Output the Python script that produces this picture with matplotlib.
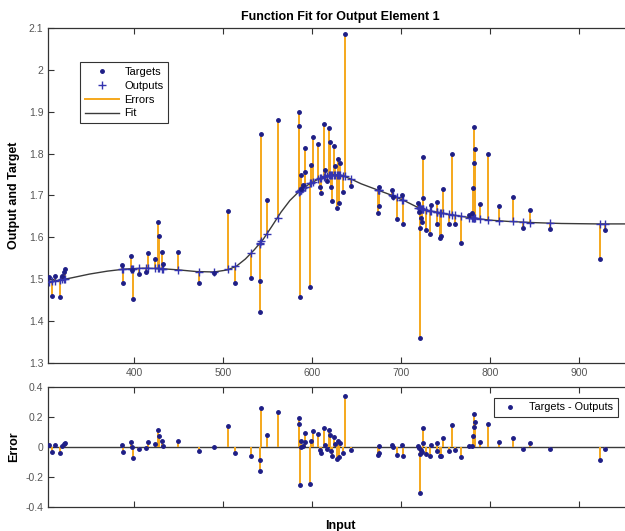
import numpy as np
import matplotlib
matplotlib.use("Agg")
import matplotlib.pyplot as plt
from matplotlib.lines import Line2D

plt.rcParams["font.family"] = ["Liberation Sans", "DejaVu Sans"]

# ── data ──────────────────────────────────────────────────────────────────
inputs = [304, 308, 311, 316.5, 319, 321, 322,
          386, 388, 397, 398, 399, 405, 413, 416, 424, 427, 428, 431, 432,
          449, 473, 490, 505, 513, 531, 541, 542, 543, 549.5, 562,
          585, 585.5, 586, 587, 588, 590, 591.7, 592, 598, 599, 601, 607,
          609, 610, 613, 615, 617, 619, 620, 621, 622, 624.6, 626, 627.5,
          629, 630, 631, 634.7, 637, 643.5,
          674.5, 675, 675.5, 690, 691, 695, 701, 702,
          719, 720, 721, 721.5, 722, 723, 724, 725, 727.6, 732, 734,
          739.7, 740.5, 743.5, 744.6, 747.2, 753.7, 757, 761, 766.8,
          776.7, 779.3, 781, 781.5, 782, 782.5, 788.8, 797, 809.5, 825.7,
          837, 844.6, 867.3, 923, 929]
targets = [1.505, 1.460, 1.507, 1.457, 1.508, 1.518, 1.525,
           1.534, 1.490, 1.556, 1.522, 1.452, 1.512, 1.516, 1.562, 1.548, 1.637, 1.603, 1.564, 1.535,
           1.565, 1.491, 1.515, 1.663, 1.490, 1.503, 1.495, 1.422, 1.848, 1.689, 1.880,
           1.900, 1.866, 1.456, 1.749, 1.715, 1.725, 1.813, 1.757, 1.482, 1.773, 1.841, 1.823,
           1.720, 1.705, 1.871, 1.760, 1.735, 1.861, 1.829, 1.721, 1.687, 1.819, 1.770, 1.669,
           1.787, 1.681, 1.777, 1.708, 2.086, 1.723,
           1.659, 1.720, 1.675, 1.713, 1.697, 1.643, 1.701, 1.631,
           1.681, 1.661, 1.623, 1.358, 1.645, 1.637, 1.693, 1.791, 1.617, 1.607, 1.677,
           1.685, 1.631, 1.598, 1.602, 1.716, 1.631, 1.799, 1.631, 1.587,
           1.653, 1.657, 1.719, 1.778, 1.865, 1.812, 1.679, 1.799, 1.675, 1.696,
           1.622, 1.665, 1.619, 1.548, 1.617]
outputs = [1.494, 1.495, 1.496, 1.497, 1.499, 1.500, 1.500,
           1.523, 1.523, 1.525, 1.525, 1.525, 1.526, 1.526, 1.526, 1.526, 1.526, 1.526, 1.525, 1.525,
           1.522, 1.518, 1.517, 1.524, 1.532, 1.563, 1.584, 1.586, 1.590, 1.609, 1.645,
           1.709, 1.710, 1.710, 1.712, 1.713, 1.717, 1.720, 1.721, 1.730, 1.731, 1.733, 1.739,
           1.741, 1.742, 1.745, 1.746, 1.747, 1.748, 1.748, 1.749, 1.749, 1.750, 1.750, 1.750,
           1.749, 1.749, 1.749, 1.747, 1.746, 1.740,
           1.713, 1.713, 1.713, 1.700, 1.699, 1.696, 1.690, 1.689,
           1.671, 1.670, 1.669, 1.669, 1.668, 1.668, 1.667, 1.667, 1.666, 1.664, 1.663,
           1.661, 1.660, 1.659, 1.659, 1.658, 1.655, 1.654, 1.653, 1.651,
           1.647, 1.647, 1.646, 1.646, 1.646, 1.646, 1.644, 1.642, 1.640, 1.638,
           1.636, 1.635, 1.634, 1.632, 1.632]

fit_x = [300, 315, 330, 350, 370, 390, 410, 430, 450, 470, 490, 505, 515, 525,
         535, 545, 555, 565, 575, 585, 595, 605, 615, 625, 635, 645, 655, 665,
         675, 690, 705, 720, 735, 750, 765, 780, 800, 820, 850, 880, 920, 965]
fit_y = [1.493, 1.497, 1.503, 1.512, 1.519, 1.524, 1.526, 1.525, 1.522, 1.518,
         1.517, 1.522, 1.531, 1.548, 1.570, 1.595, 1.627, 1.660, 1.688, 1.709,
         1.725, 1.737, 1.746, 1.750, 1.747, 1.738, 1.728, 1.720, 1.712, 1.700,
         1.686, 1.670, 1.662, 1.656, 1.651, 1.646, 1.641, 1.638, 1.635, 1.633,
         1.632, 1.632]

x_ticks = [400, 500, 600, 700, 800, 900]
y_ticks_top = [1.3, 1.4, 1.5, 1.6, 1.7, 1.8, 1.9, 2.0, 2.1]
y_ticks_err = [-0.4, -0.2, 0, 0.2, 0.4]

# ── colours ──────────────────────────────────────────────────────────────
DOT_COLOR = "#1e1e86"
PLUS_COLOR = "#3434b0"
ERR_COLOR = "#f5a81c"
FIT_COLOR = "#3a3a3a"
TICK_COLOR = "#555555"

x = np.array(inputs)
t = np.array(targets)
o = np.array(outputs)
err = t - o

fig = plt.figure(figsize=(6.25, 5.31), dpi=100, facecolor="white")
ax = fig.add_axes([0.0773, 0.317, 0.935, 0.6297])
ax_e = fig.add_axes([0.0773, 0.0458, 0.935, 0.2248])

XLIM = (303.7, 960)

# ── top: targets / outputs / errors / fit ────────────────────────────────
ax.vlines(x, o, t, color=ERR_COLOR, linewidth=1.4, zorder=1)
ax.plot(fit_x, fit_y, color=FIT_COLOR, linewidth=1.0, zorder=2)
ax.plot(x, o, "+", color=PLUS_COLOR, markersize=6, markeredgewidth=1.0, zorder=3)
ax.plot(x, t, ".", color=DOT_COLOR, markersize=5, zorder=4)
ax.set_xlim(*XLIM)
ax.set_ylim(1.3, 2.1)
ax.set_xticks(x_ticks)
ax.set_yticks(y_ticks_top)
ax.set_yticklabels(["1.3", "1.4", "1.5", "1.6", "1.7", "1.8", "1.9", "2", "2.1"])
ax.set_title("Function Fit for Output Element 1", fontsize=9, fontweight="bold",
             pad=6)
ax.set_ylabel("Output and Target", fontsize=9, fontweight="bold", labelpad=6)

handles = [
    Line2D([], [], linestyle="none", marker=".", color=DOT_COLOR, markersize=5),
    Line2D([], [], linestyle="none", marker="+", color=PLUS_COLOR, markersize=6),
    Line2D([], [], color=ERR_COLOR, linewidth=1.4),
    Line2D([], [], color=FIT_COLOR, linewidth=1.0),
]
leg = ax.legend(handles, ["Targets", "Outputs", "Errors", "Fit"],
                loc="upper left", bbox_to_anchor=(0.055, 0.900),
                fontsize=8, frameon=True, fancybox=False, handlelength=3.0,
                handletextpad=0.5, labelspacing=0.35, borderpad=0.45,
                borderaxespad=0)
leg.get_frame().set_edgecolor("black")
leg.get_frame().set_linewidth(0.8)

# ── bottom: error plot ───────────────────────────────────────────────────
ax_e.axhline(0, color=FIT_COLOR, linewidth=1.0, zorder=1)
ax_e.vlines(x, 0, err, color=ERR_COLOR, linewidth=1.4, zorder=2)
ax_e.plot(x, err, ".", color=DOT_COLOR, markersize=5, zorder=3,
          label="Targets - Outputs")
ax_e.set_xlim(*XLIM)
ax_e.set_ylim(-0.4, 0.4)
ax_e.set_xticks(x_ticks)
ax_e.set_xticklabels([])
ax_e.set_yticks(y_ticks_err)
ax_e.set_yticklabels(["-0.4", "-0.2", "0", "0.2", "0.4"])
ax_e.set_ylabel("Error", fontsize=9, fontweight="bold", labelpad=4)
ax_e.set_xlabel("Input", fontsize=9, fontweight="bold", labelpad=6)
leg2 = ax_e.legend(loc="upper left", bbox_to_anchor=(0.762, 0.91),
                   fontsize=7.8, frameon=True, fancybox=False,
                   handlelength=2.2, handletextpad=0.7, borderpad=0.4,
                   borderaxespad=0)
leg2.get_frame().set_edgecolor("black")
leg2.get_frame().set_linewidth(0.8)

for a in (ax, ax_e):
    a.tick_params(direction="in", top=True, right=False, length=4,
                  labelsize=7.5, labelcolor=TICK_COLOR, color="#333333")
    for sp in a.spines.values():
        sp.set_edgecolor("#333333")
        sp.set_linewidth(0.9)

fig.savefig("out.png", dpi=100, facecolor="white")
